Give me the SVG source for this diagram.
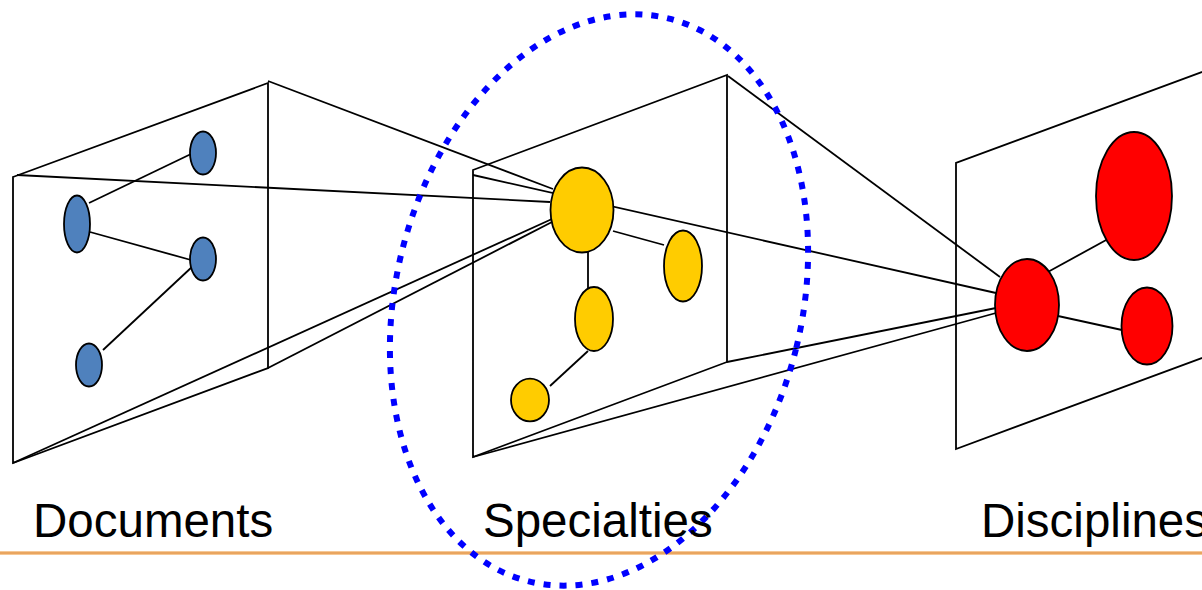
<svg xmlns="http://www.w3.org/2000/svg" width="1202" height="590" viewBox="0 0 1202 590">
<style>
.frame{fill:none;stroke:#000;stroke-width:1.8;stroke-linejoin:miter}
.edge{stroke:#000;stroke-width:1.8;fill:none}
.blue{fill:#4F81BD;stroke:#000;stroke-width:1.8}
.yellow{fill:#FFCC00;stroke:#000;stroke-width:1.8}
.red{fill:#FF0000;stroke:#000;stroke-width:1.8}
.label{font-family:"Liberation Sans",Arial,sans-serif;font-size:47.5px;fill:#000}
</style>
<rect width="1202" height="590" fill="#fff"/>
<!-- separator line -->
<line x1="0" y1="553" x2="1202" y2="553" stroke="#F6C896" stroke-width="4"/>
<line x1="0" y1="553" x2="1202" y2="553" stroke="#E49A4C" stroke-width="1.6"/>

<g id="panels">
  <polygon id="panel-documents" class="frame" points="13,177 268,83 268,368 13,463"/>
  <polygon id="panel-specialties" class="frame" points="473,170 727,75 727,362 473,457"/>
  <polyline id="panel-disciplines" class="frame" points="1210,69 956,163 956,449 1210,355"/>
</g>

<g id="connectors">
  <!-- documents panel to specialty node -->
  <line class="edge" x1="17" y1="175" x2="550" y2="202"/>
  <line class="edge" x1="268" y1="81" x2="553" y2="189"/>
  <line class="edge" x1="13" y1="463" x2="552" y2="219"/>
  <line class="edge" x1="268" y1="368" x2="552" y2="222"/>
  <!-- specialties panel to discipline node -->
  <line class="edge" x1="473" y1="175" x2="996" y2="293"/>
  <line class="edge" x1="728" y1="76" x2="1000" y2="277"/>
  <line class="edge" x1="727" y1="362" x2="996" y2="308"/>
  <line class="edge" x1="473" y1="457" x2="996" y2="313"/>
  <!-- documents internal -->
  <line class="edge" x1="89" y1="203" x2="191" y2="154"/>
  <line class="edge" x1="90" y1="232" x2="191" y2="260"/>
  <line class="edge" x1="103" y1="350" x2="193" y2="266"/>
  <!-- specialties internal -->
  <line class="edge" x1="613" y1="231" x2="664" y2="245"/>
  <line class="edge" x1="588" y1="252" x2="588" y2="288"/>
  <line class="edge" x1="550" y1="386" x2="588" y2="351"/>
  <!-- disciplines internal -->
  <line class="edge" x1="1046" y1="273" x2="1108" y2="239"/>
  <line class="edge" x1="1058" y1="316" x2="1122" y2="330"/>
</g>

<g id="doc-node-1"><ellipse class="blue" cx="203" cy="153" rx="13" ry="21.5"/></g>
<g id="doc-node-2"><ellipse class="blue" cx="77" cy="224" rx="13" ry="28.5"/></g>
<g id="doc-node-3"><ellipse class="blue" cx="203" cy="259" rx="13" ry="21.5"/></g>
<g id="doc-node-4"><ellipse class="blue" cx="89" cy="365" rx="13" ry="21.5"/></g>

<g id="spec-node-1"><ellipse class="yellow" cx="582" cy="210" rx="31.5" ry="42.5"/></g>
<g id="spec-node-2"><ellipse class="yellow" cx="683" cy="266" rx="19" ry="35.5"/></g>
<g id="spec-node-3"><ellipse class="yellow" cx="594" cy="319" rx="19" ry="32"/></g>
<g id="spec-node-4"><ellipse class="yellow" cx="530" cy="400" rx="19" ry="21.3"/></g>

<g id="disc-node-1"><ellipse class="red" cx="1027" cy="305" rx="32" ry="46"/></g>
<g id="disc-node-2"><ellipse class="red" cx="1134" cy="196" rx="38" ry="64"/></g>
<g id="disc-node-3"><ellipse class="red" cx="1147" cy="326" rx="25.5" ry="38.5"/></g>

<g id="highlight">
  <ellipse cx="599" cy="300" rx="203" ry="290" transform="rotate(14 599 300)" fill="none" stroke="#0000FF" stroke-width="6" stroke-dasharray="7 9"/>
</g>

<g id="labels">
  <text class="label" x="33" y="537">Documents</text>
  <text class="label" x="483" y="537">Specialties</text>
  <text class="label" x="981" y="537">Disciplines</text>
</g>
</svg>
